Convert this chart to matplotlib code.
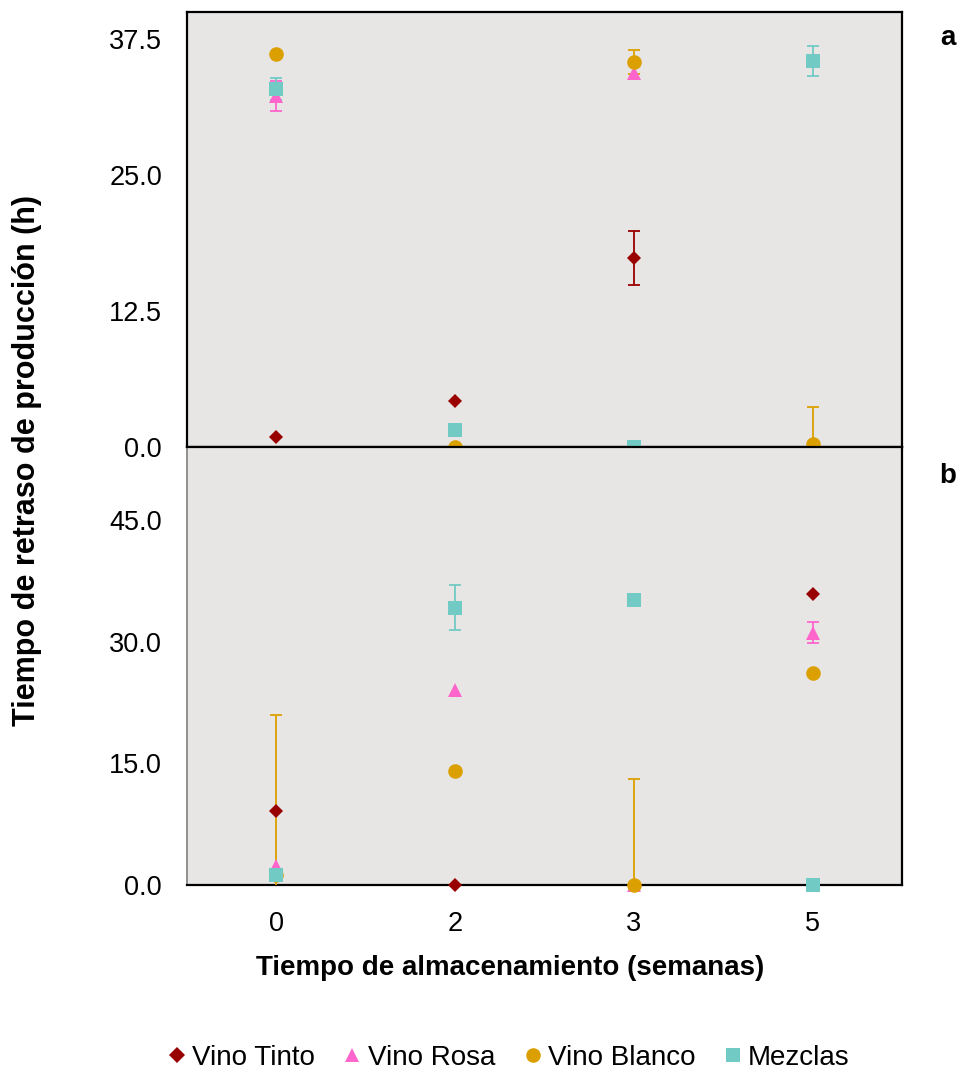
import numpy as np
import matplotlib
matplotlib.use("Agg")
import matplotlib.pyplot as plt

plt.rcParams['font.family'] = ['Liberation Sans', 'DejaVu Sans']

weeks = ["0", "2", "3", "5"]
series = ["Vino Tinto", "Vino Rosa", "Vino Blanco", "Mezclas"]
colors = ["#990000", "#FF66CC", "#DBA000", "#72CAC4"]
markers = ["D", "^", "o", "s"]
msizes = [7.5, 10.5, 10.5, 10.5]

nan = np.nan
# Panel a
a_tinto = [0.9, 4.2, 17.4, nan]
a_tinto_err = [0, 0, 2.5, 0]
a_rosa = [32.3, nan, 34.4, nan]
a_rosa_err = [1.4, 0, 0, 0]
a_blanco = [36.1, 0.0, 35.4, 0.3]
a_blanco_err = [0, 0, 1.1, 3.4]
a_mezclas = [32.9, 1.6, 0.0, 35.5]
a_mezclas_err = [1.0, 0, 0, 1.35]

# Panel b
b_tinto = [9.1, 0.0, nan, 35.9]
b_tinto_err = [0, 0, 0, 0]
b_rosa = [2.4, 24.0, 0.0, 31.1]
b_rosa_err = [0, 0, 0, 1.3]
b_blanco = [1.2, 14.0, 0.0, 26.1]
b_blanco_err = [19.7, 0, 13.1, 0]
b_mezclas = [1.2, 34.2, 35.1, 0.0]
b_mezclas_err = [0, 2.8, 0, 0]

panel_a = [(a_tinto, a_tinto_err), (a_rosa, a_rosa_err), (a_blanco, a_blanco_err), (a_mezclas, a_mezclas_err)]
panel_b = [(b_tinto, b_tinto_err), (b_rosa, b_rosa_err), (b_blanco, b_blanco_err), (b_mezclas, b_mezclas_err)]

fig = plt.figure(figsize=(9.59, 10.72), dpi=100)
W, H = 959, 1072
L, R = 187, 902
axa = fig.add_axes([L / W, 1 - 447 / H, (R - L) / W, (447 - 12) / H])
axb = fig.add_axes([L / W, 1 - 885 / H, (R - L) / W, (885 - 447) / H])

x = np.arange(len(weeks))
bg = "#E7E6E5"


def draw(ax, data, ylim, yticks):
    ax.set_facecolor(bg)
    handles = []
    for (vals, errs), c, m, ms, name in zip(data, colors, markers, msizes, series):
        v = np.array(vals, dtype=float)
        e = np.array(errs, dtype=float)
        e = np.where(e > 0, e, np.nan)
        eb = ax.errorbar(x, v, yerr=e, fmt="none", ecolor=c, elinewidth=1.3,
                         capsize=4.3, capthick=1.3, zorder=3)
        for art in list(eb.lines[1]) + list(eb.lines[2]):
            art.set_clip_on(True)
        h, = ax.plot(x, v, linestyle="none", marker=m, markersize=ms, color=c,
                     markeredgewidth=0, clip_on=False, zorder=4, label=name)
        handles.append(h)
    ax.set_xlim(-0.5, 3.5)
    ax.set_ylim(*ylim)
    ax.set_yticks(yticks)
    ax.set_yticklabels([f"{t:.1f}" for t in yticks])
    ax.tick_params(axis="both", length=0, labelsize=19.5)
    ax.tick_params(axis="y", pad=18)
    for s in ax.spines.values():
        s.set_linewidth(1.6)
        s.set_color("black")
    return handles


handles = draw(axa, panel_a, (0, 40), [0.0, 12.5, 25.0, 37.5])
axa.set_xticks([])
draw(axb, panel_b, (0, 54), [0.0, 15.0, 30.0, 45.0])
axb.set_xticks(x)
axb.set_xticklabels(weeks)
axb.tick_params(axis="x", pad=19)
axb.spines["left"].set_color("#7f7f7f")
axb.spines["left"].set_linewidth(1.2)

fig.text(948 / W, 1 - 38 / H, "a", fontsize=20, fontweight="bold", ha="center", va="center")
fig.text(948 / W, 1 - 476 / H, "b", fontsize=20, fontweight="bold", ha="center", va="center")
fig.text(27 / W, 1 - 460 / H, "Tiempo de retraso de producción (h)", fontsize=22,
         fontweight="bold", rotation=90, ha="center", va="center")
fig.text(510 / W, 1 - 968 / H, "Tiempo de almacenamiento (semanas)", fontsize=20,
         fontweight="bold", ha="center", va="center")

leg_handles = []
for c, m, name in zip(colors, markers, series):
    h, = plt.plot([], [], linestyle="none", marker=m, color=c,
                  markersize=10.5 if m != "D" else 8.5, markeredgewidth=0, label=name)
    leg_handles.append(h)
fig.legend(handles=leg_handles, loc="center", bbox_to_anchor=(507 / W, 1 - 1058 / H),
           ncol=4, frameon=False, fontsize=20, handletextpad=0.1, columnspacing=0.9,
           handlelength=0.9, borderaxespad=0)

fig.savefig("out.png", dpi=100)
